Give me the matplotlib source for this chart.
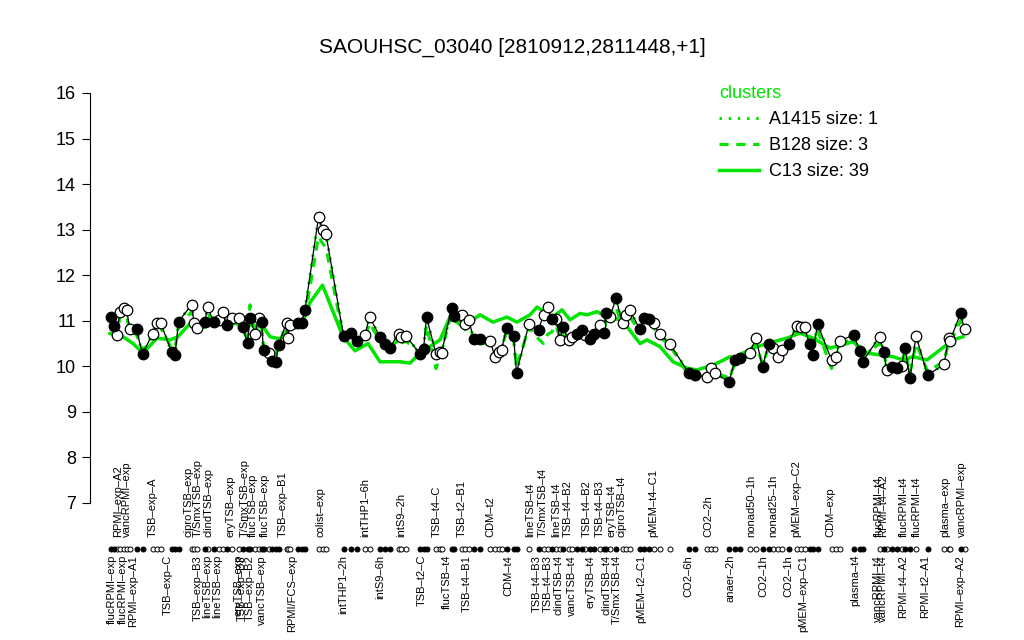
"""Expression profile of SAOUHSC_03040 across conditions, with cluster means overlaid."""

import matplotlib

matplotlib.use("Agg")
import matplotlib.pyplot as plt
from matplotlib.lines import Line2D

plt.rcParams["font.family"] = ["Liberation Sans", "DejaVu Sans"]

TITLE = "SAOUHSC_03040 [2810912,2811448,+1]"
GREEN = "#00e400"

# sample positions along the condition axis, expression, and filled/open marker flag
pos = [2.1, 2.8, 3.3, 4.0, 4.7, 5.3, 6.0, 7.3, 8.5, 10.5,
       11.3, 12.1, 14.3, 15.0, 15.7, 18.3, 18.8, 19.3, 21.0, 21.5,
       22.7, 23.7, 24.5, 25.3, 26.3, 27.7, 28.5, 29.5, 30.0, 31.0,
       31.7, 32.3, 32.7, 33.7, 34.3, 35.2, 35.7, 37.3, 37.5, 38.0,
       39.5, 40.3, 41.0, 43.7, 44.5, 45.2, 48.7, 50.1, 51.3, 53.0,
       53.9, 56.0, 57.0, 57.9, 59.7, 60.1, 61.2, 64.0, 64.7, 65.3,
       67.2, 68.0, 68.3, 70.3, 70.8, 72.3, 73.0, 73.8, 74.7, 75.9,
       78.0, 79.0, 79.7, 80.3, 81.3, 82.7, 83.3, 85.8, 87.7, 88.7,
       89.5, 90.3, 91.2, 92.0, 92.5, 93.7, 94.3, 95.3, 96.3, 97.0,
       97.9, 98.7, 99.9, 100.7, 101.2, 102.0, 103.2, 104.5, 105.2, 105.9,
       108.0, 108.8, 109.7, 110.7, 111.9, 114.0, 117.7, 119.0, 121.3, 122.1,
       123.0, 125.8, 127.0, 128.0, 129.9, 131.2, 132.5, 133.7, 134.5, 135.5,
       136.3, 137.7, 139.3, 140.2, 140.9, 141.9, 142.5, 143.5, 146.3, 147.2,
       147.9, 150.8, 151.9, 152.5, 155.9, 156.8, 157.3, 158.3, 159.3, 160.3,
       161.0, 162.0, 163.2, 165.5, 168.8, 169.7, 170.0, 172.1, 172.9]

expr = [11.09, 10.89, 10.69, 11.20, 11.27, 11.24, 10.81, 10.81, 10.26, 10.72,
        10.96, 10.96, 10.32, 10.25, 10.98, 11.35, 10.96, 10.83, 10.98, 11.31,
        10.98, 11.02, 11.20, 10.91, 11.05, 11.05, 10.87, 10.52, 11.05, 10.72,
        11.05, 10.98, 10.36, 10.29, 10.12, 10.10, 10.47, 10.96, 10.62, 10.91,
        10.94, 10.96, 11.24, 13.27, 13.00, 12.90, 10.67, 10.74, 10.56, 10.69,
        11.09, 10.64, 10.50, 10.40, 10.72, 10.65, 10.67, 10.27, 10.37, 11.08,
        10.27, 10.32, 10.29, 11.27, 11.10, 11.13, 10.93, 11.02, 10.59, 10.59,
        10.56, 10.21, 10.31, 10.36, 10.83, 10.67, 9.86, 10.93, 10.80, 11.13,
        11.30, 11.03, 11.03, 10.58, 10.87, 10.58, 10.64, 10.71, 10.80, 10.69,
        10.59, 10.72, 10.91, 10.74, 11.16, 11.09, 11.49, 10.94, 11.13, 11.24,
        10.81, 11.05, 11.03, 10.94, 10.71, 10.49, 9.86, 9.81, 9.77, 9.96,
        9.85, 9.66, 10.14, 10.18, 10.29, 10.62, 9.98, 10.49, 10.40, 10.21,
        10.36, 10.50, 10.89, 10.86, 10.86, 10.49, 10.25, 10.93, 10.14, 10.20,
        10.56, 10.69, 10.34, 10.10, 10.65, 10.31, 9.93, 9.99, 9.96, 10.01,
        10.40, 9.74, 10.67, 9.81, 10.04, 10.62, 10.56, 11.16, 10.81]

filled = [1, 1, 0, 0, 0, 0, 0, 1, 1, 0,
          0, 0, 1, 1, 1, 0, 0, 0, 1, 0,
          1, 0, 0, 1, 0, 0, 1, 1, 1, 0,
          0, 1, 1, 0, 1, 1, 1, 0, 0, 0,
          1, 1, 1, 0, 0, 0, 1, 1, 1, 0,
          0, 1, 1, 1, 0, 0, 0, 1, 1, 1,
          0, 0, 0, 1, 1, 0, 0, 0, 1, 1,
          0, 0, 0, 0, 1, 1, 1, 0, 1, 0,
          0, 1, 0, 0, 1, 0, 0, 1, 1, 0,
          1, 1, 0, 1, 1, 0, 1, 0, 0, 0,
          1, 1, 1, 0, 0, 0, 1, 1, 0, 0,
          0, 1, 1, 1, 0, 0, 1, 1, 0, 0,
          0, 1, 0, 0, 0, 1, 1, 1, 0, 0,
          0, 1, 1, 1, 0, 1, 0, 1, 1, 0,
          1, 1, 0, 1, 0, 0, 0, 1, 0]

# cluster B128 mean (3 genes), one value per sample
b128_mean = [10.95, 10.80, 10.60, 11.10, 11.15, 11.10, 10.75, 10.70, 10.35, 10.65,
             10.90, 10.85, 10.40, 10.40, 10.85, 11.20, 10.90, 10.80, 10.90, 11.20,
             10.90, 10.95, 11.10, 10.85, 10.95, 11.00, 10.80, 10.60, 11.35, 10.70,
             10.95, 10.85, 10.45, 10.30, 10.30, 10.25, 10.50, 10.85, 10.70, 10.80,
             10.85, 10.90, 11.10, 12.85, 12.70, 12.60, 10.60, 10.65, 10.50, 10.60,
             10.95, 10.55, 10.40, 10.35, 10.60, 10.50, 10.55, 10.30, 10.20, 10.90,
             9.95, 10.20, 10.35, 11.15, 11.00, 11.00, 10.80, 10.90, 10.55, 10.50,
             10.50, 10.30, 10.30, 10.40, 10.75, 10.60, 10.00, 10.85, 10.60, 10.50,
             10.70, 10.75, 10.90, 10.60, 10.70, 10.50, 10.55, 10.60, 10.75, 10.60,
             10.55, 10.65, 10.80, 10.70, 11.00, 10.95, 11.30, 10.85, 11.00, 11.10,
             10.75, 10.95, 10.95, 10.85, 10.65, 10.45, 9.80, 9.70, 9.80, 9.90,
             9.85, 9.75, 10.05, 10.10, 10.25, 10.50, 10.05, 10.40, 10.35, 10.20,
             10.30, 10.45, 10.80, 10.90, 10.80, 10.45, 10.30, 10.80, 9.95, 10.15,
             10.50, 10.60, 10.30, 10.20, 10.50, 10.30, 10.00, 10.00, 10.00, 10.05,
             10.35, 9.85, 10.50, 9.90, 10.10, 10.50, 10.50, 11.00, 10.70]

# cluster C13 mean (39 genes), read at fewer positions
c13_pos = [2.0, 4.6, 6.6, 8.6, 11.4, 14.0, 15.6, 18.0, 20.0, 22.0,
           26.0, 30.0, 32.6, 34.0, 36.0, 38.0, 40.6, 42.0, 44.5, 46.6,
           48.6, 51.0, 53.6, 56.0, 60.0, 62.0, 64.0, 68.0, 70.0, 72.6,
           76.0, 78.6, 81.4, 83.4, 86.0, 87.4, 90.6, 92.4, 94.0, 96.0,
           97.4, 99.4, 101.4, 104.0, 105.4, 108.0, 109.4, 112.0, 114.6, 117.4,
           119.4, 122.6, 124.0, 126.0, 126.6, 130.6, 133.4, 137.4, 140.0, 142.6,
           146.0, 149.4, 150.6, 153.4, 156.0, 158.6, 160.6, 162.6, 165.4, 168.0,
           170.6, 172.6]
c13_mean = [10.72, 10.65, 10.50, 10.29, 10.62, 10.58, 10.65, 10.94, 10.83, 10.90,
            10.95, 10.90, 10.87, 10.65, 10.60, 10.87, 11.00, 11.40, 11.78, 11.20,
            10.65, 10.34, 10.50, 10.10, 10.10, 10.07, 10.29, 10.58, 11.08, 10.87,
            11.13, 10.97, 11.08, 10.97, 11.13, 11.30, 11.08, 11.24, 11.02, 11.16,
            11.13, 11.20, 11.08, 11.02, 10.87, 10.50, 10.58, 10.43, 10.10, 9.96,
            9.92, 10.03, 10.10, 10.21, 10.18, 10.40, 10.50, 10.62, 10.73, 10.62,
            10.40, 10.50, 10.54, 10.29, 10.25, 10.21, 10.14, 10.21, 10.14, 10.36,
            10.58, 10.65]

top_labels = ["RPMI–exp–A2", "vancRPMI–exp", "TSB–exp–A", "ciproTSB–exp", "T/SmxTSB–exp",
              "clindTSB–exp", "eryTSB–exp", "T/SmxTSB–exp", "flucTSB–exp", "flucTSB–exp",
              "TSB–exp–B1", "colist–exp", "intTHP1–6h", "intS9–2h", "TSB–t4–C",
              "TSB–t2–B1", "CDM–t2", "lineTSB–t4", "T/SmxTSB–t4", "lineTSB–t4",
              "TSB–t4–B2", "TSB–t4–B2", "TSB–t4–B3", "eryTSB–t4", "ciproTSB–t4",
              "pMEM–t4–C1", "CO2–2h", "nonad50–1h", "nonad25–1h", "pMEM–exp–C2",
              "CDM–exp", "flucRPMI–t4", "RPMI–t4–A2", "flucRPMI–t4", "flucRPMI–t4",
              "plasma–exp", "vancRPMI–exp"]
top_pos = [3.6, 5.4, 10.6, 17.6, 19.6, 21.6, 26.0, 29.0, 30.6, 33.0,
           36.6, 44.0, 53.0, 60.3, 67.3, 72.3, 78.0, 86.0, 88.6, 91.3,
           93.6, 97.3, 100.0, 102.3, 104.3, 110.7, 121.7, 130.3, 134.7, 139.3,
           146.0, 155.7, 156.7, 160.7, 163.3, 169.0, 172.3]

bottom_labels = ["flucRPMI–exp", "flucRPMI–exp", "RPMI–exp–A1", "TSB–exp–C", "TSB–exp–B3",
                 "lineTSB–exp", "lineTSB–exp", "eryTSB–exp", "TSB–exp–B3", "TSB–exp–B2",
                 "vancTSB–exp", "RPMI/FCS–exp", "intTHP1–2h", "intS9–6h", "TSB–t2–C",
                 "flucTSB–t4", "TSB–t4–B1", "CDM–t4", "TSB–t4–B3", "TSB–t4–B3",
                 "clindTSB–t4", "vancTSB–t4", "eryTSB–t4", "clindTSB–t4", "T/SmxTSB–t4",
                 "pMEM–t2–C1", "CO2–6h", "anaer–2h", "CO2–1h", "CO2–1h",
                 "pMEM–exp–C1", "plasma–t4", "vancRPMI–t4", "vancRPMI–t4", "RPMI–t4–A2",
                 "RPMI–t2–A1", "RPMI–exp–A2"]
bottom_pos = [2.3, 4.6, 6.6, 13.6, 19.6, 21.4, 23.4, 27.6, 28.4, 30.0,
              32.4, 38.4, 48.6, 56.0, 64.3, 69.3, 73.4, 81.6, 87.3, 89.6,
              91.6, 94.3, 98.0, 101.3, 103.3, 108.3, 117.6, 126.0, 132.6, 137.6,
              140.6, 151.0, 155.6, 156.6, 160.6, 165.0, 172.0]

cluster_names = ["A1415 size: 1", "B128 size: 3", "C13 size: 39"]

STRIP_Y = 5.99
TOP_Y = 6.25
BOTTOM_Y = 5.86


def main() -> None:
    fig = plt.figure(figsize=(10.24, 6.4), dpi=100)
    ax = fig.add_axes([90 / 1024, 0, 900 / 1024, 1])
    ax.set_xlim(-2, 178)
    ax.set_ylim(3.993, 18.04)

    dotted = (0, (0.8, 2.2))
    dashed = (0, (3, 2.5))
    # single-gene cluster mean equals the gene itself, drawn under the profile
    ax.plot(pos, expr, color=GREEN, lw=2.2, ls=dotted, zorder=1)
    ax.plot(pos, b128_mean, color=GREEN, lw=2.2, ls=dashed, zorder=2)
    ax.plot(c13_pos, c13_mean, color=GREEN, lw=2.5, zorder=2)
    ax.plot(pos, expr, color="black", lw=0.9, zorder=3)

    x_open = [p for p, f in zip(pos, filled) if not f]
    y_open = [v for v, f in zip(expr, filled) if not f]
    x_fill = [p for p, f in zip(pos, filled) if f]
    y_fill = [v for v, f in zip(expr, filled) if f]
    ax.plot(x_open, y_open, "o", ms=7.6, mfc="white", mec="black", mew=0.9, zorder=4)
    ax.plot(x_fill, y_fill, "o", ms=7.6, mfc="black", mec="black", mew=0.9, zorder=4)

    # condition strip under the axis
    ax.plot(x_open, [STRIP_Y] * len(x_open), "o", ms=3.6, mfc="white", mec="black", mew=0.7)
    ax.plot(x_fill, [STRIP_Y] * len(x_fill), "o", ms=3.6, mfc="black", mec="black", mew=0.7)
    for lab, x in zip(top_labels, top_pos):
        ax.text(x, TOP_Y, lab, rotation=90, ha="center", va="bottom", fontsize=8)
    for lab, x in zip(bottom_labels, bottom_pos):
        ax.text(x, BOTTOM_Y, lab, rotation=90, ha="center", va="top", fontsize=8)

    for side in ("top", "right", "bottom"):
        ax.spines[side].set_visible(False)
    ax.spines["left"].set_bounds(7, 16)
    ax.set_xticks([])
    ax.set_yticks(range(7, 17))
    ax.tick_params(axis="y", labelsize=13, length=6, width=0.8, pad=4)

    fig.text(0.5, 1 - 47 / 640, TITLE, ha="center", va="center", fontsize=15)

    handles = [Line2D([], [], color=GREEN, lw=2.2, ls=dotted),
               Line2D([], [], color=GREEN, lw=2.2, ls=dashed),
               Line2D([], [], color=GREEN, lw=2.5)]
    leg = fig.legend(handles, cluster_names, title="clusters", loc="upper left",
                     bbox_to_anchor=(703 / 1024, 1 - 69 / 640), frameon=False,
                     fontsize=13, title_fontsize=13, alignment="left",
                     handlelength=2.2, handletextpad=0.55, labelspacing=0.5)
    leg.get_title().set_color(GREEN)

    fig.savefig("out.png", dpi=100)


if __name__ == "__main__":
    main()
